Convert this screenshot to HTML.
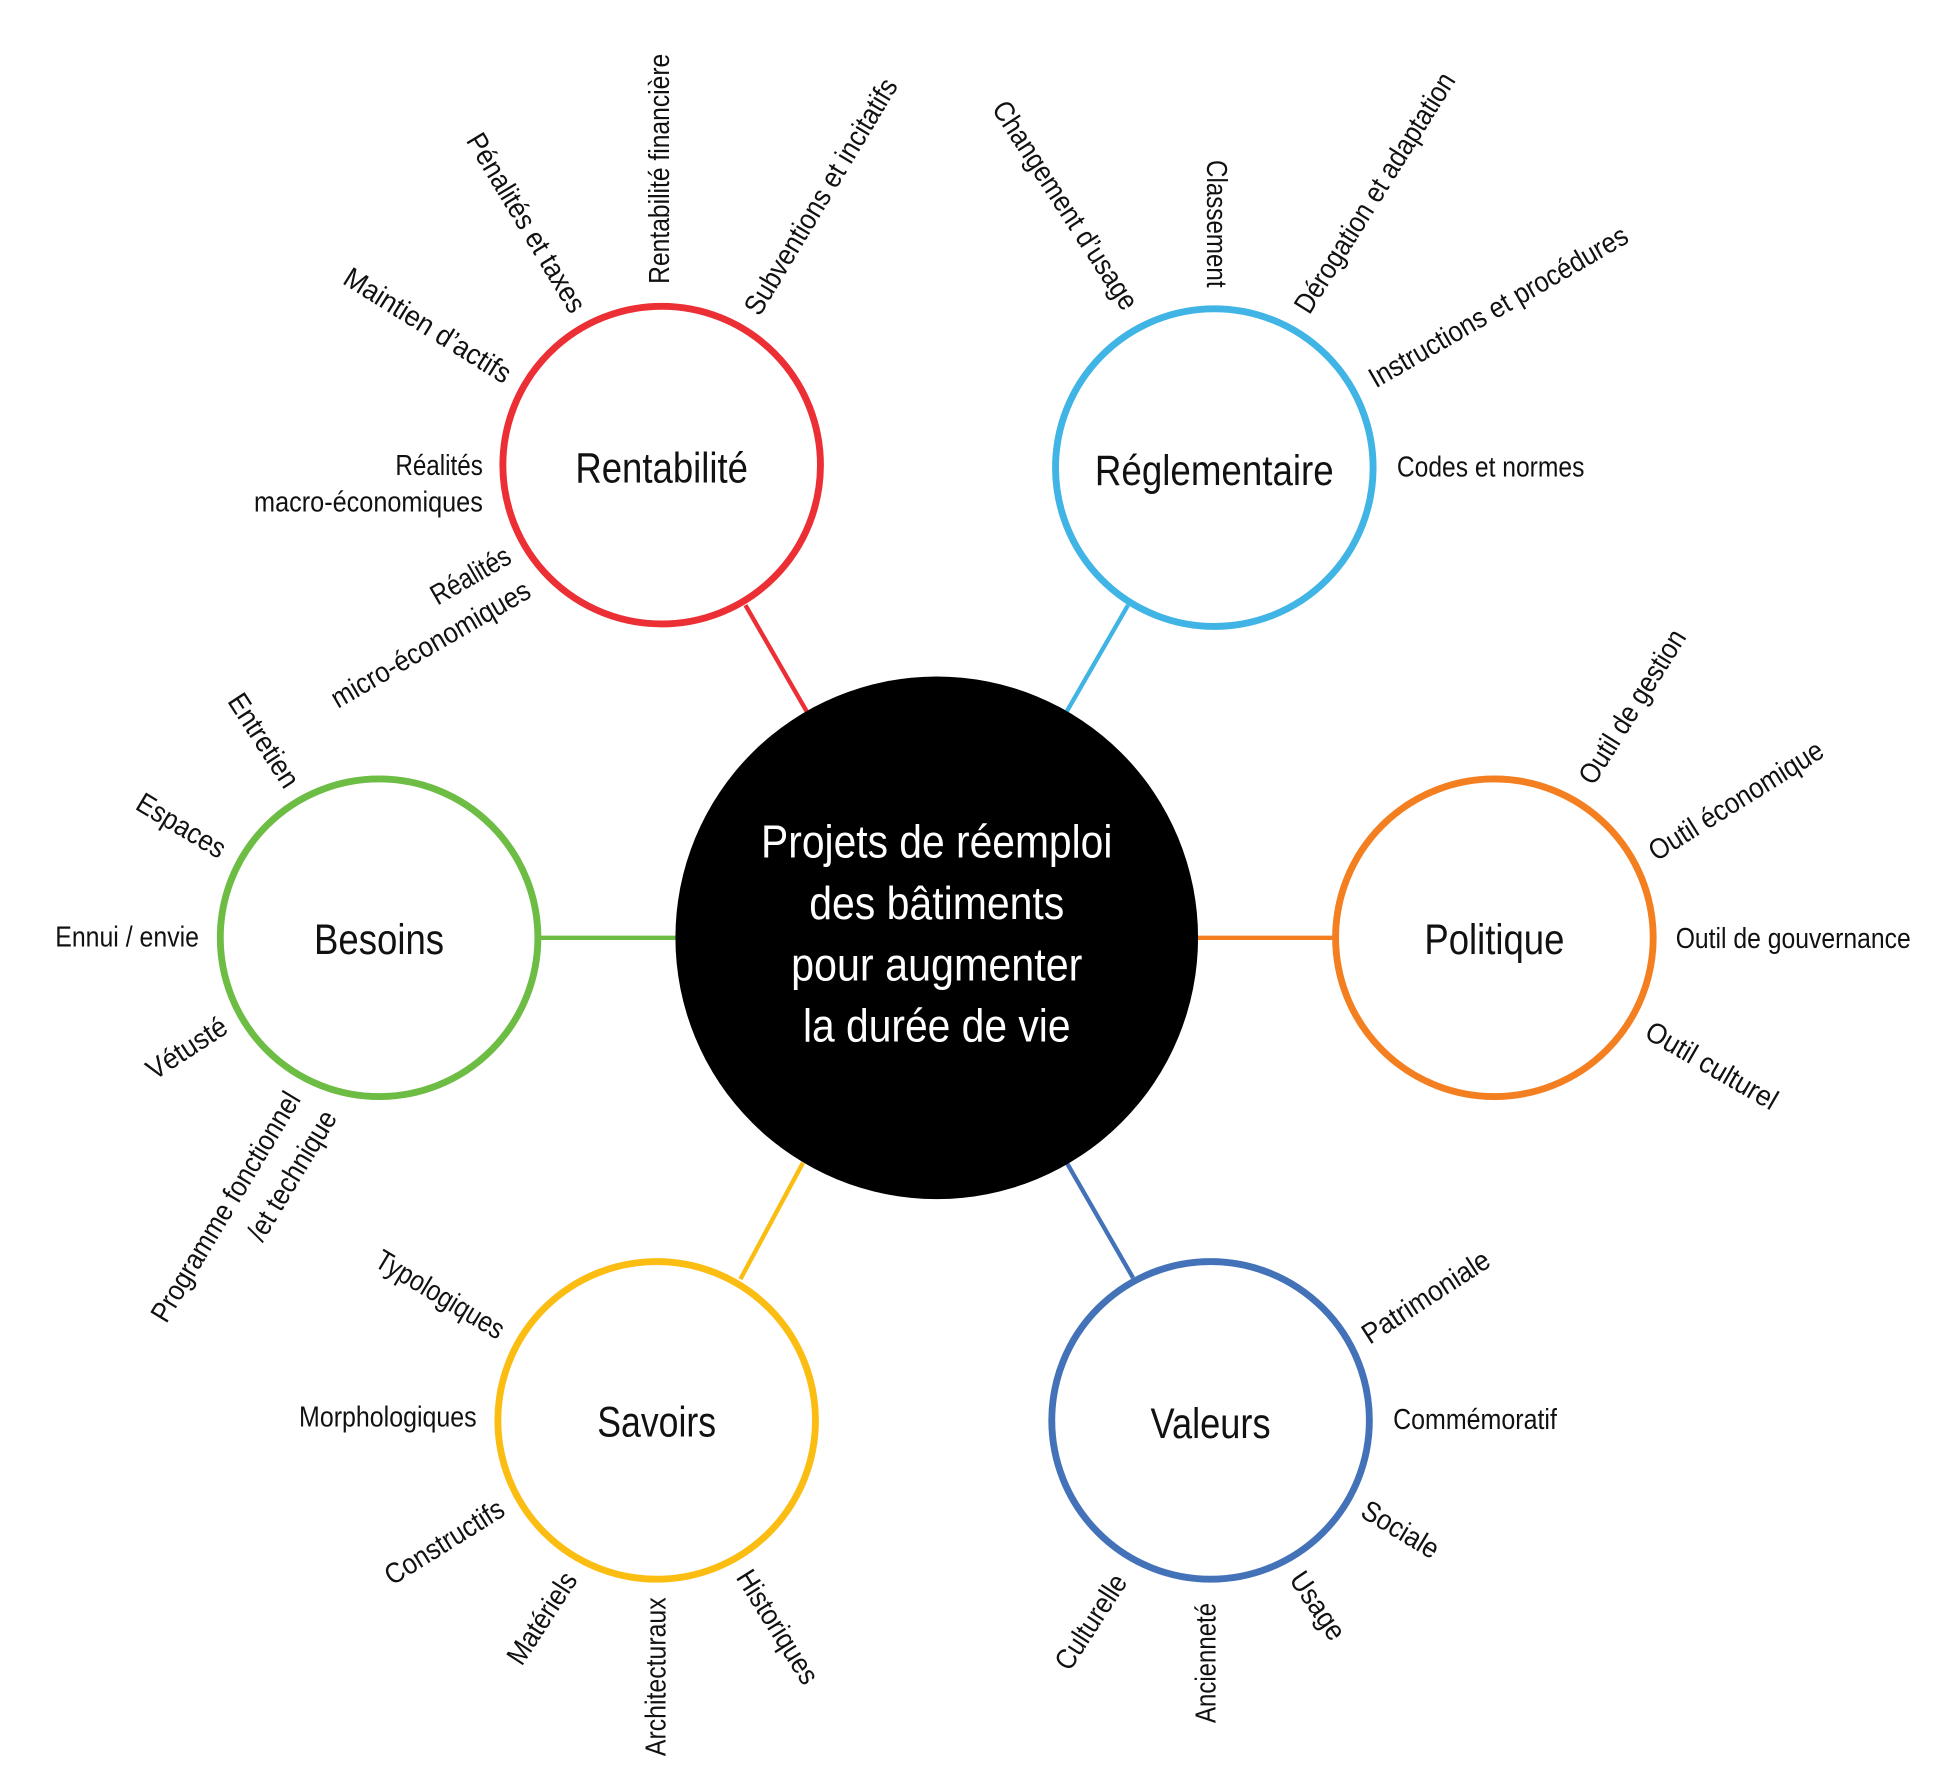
<!DOCTYPE html>
<html><head><meta charset="utf-8"><style>
html,body{margin:0;padding:0;background:#fff;}
svg{display:block;}
text{font-family:"Liberation Sans Narrow","Liberation Sans",sans-serif;fill:#111;}
.s{font-size:23px;}
.c{font-size:34px;}
.m{font-size:37px;fill:#fff;}
</style></head><body>
<svg width="1951" height="1773" viewBox="0 0 1560 1418" xmlns="http://www.w3.org/2000/svg">
<g stroke-width="3.5">
<line x1="596" y1="484" x2="645" y2="569" stroke="#ec2f34"/>
<line x1="902" y1="484" x2="853" y2="569" stroke="#3fb4e5"/>
<line x1="958" y1="750" x2="1066" y2="750" stroke="#f47f20"/>
<line x1="432" y1="750" x2="540" y2="750" stroke="#6dbd45"/>
<line x1="642" y1="930" x2="592" y2="1023" stroke="#fbbd12"/>
<line x1="853" y1="930" x2="906" y2="1022" stroke="#4472b8"/>
</g>
<g fill="none" stroke-width="5.5">
<circle cx="529" cy="372" r="127" stroke="#ec2f34"/>
<circle cx="971" cy="374" r="127" stroke="#3fb4e5"/>
<circle cx="1195" cy="750" r="127" stroke="#f47f20"/>
<circle cx="303" cy="750" r="127" stroke="#6dbd45"/>
<circle cx="525" cy="1136" r="127" stroke="#fbbd12"/>
<circle cx="968" cy="1136" r="127" stroke="#4472b8"/>
</g>
<circle cx="749" cy="750" r="209" fill="#000"/>
<g text-anchor="middle">
<text class="m" x="749" y="686" textLength="281" lengthAdjust="spacingAndGlyphs">Projets de réemploi</text>
<text class="m" x="749" y="735" textLength="204" lengthAdjust="spacingAndGlyphs">des bâtiments</text>
<text class="m" x="749" y="784" textLength="233" lengthAdjust="spacingAndGlyphs">pour augmenter</text>
<text class="m" x="749" y="833" textLength="214" lengthAdjust="spacingAndGlyphs">la durée de vie</text>
<text class="c" x="529" y="386" textLength="138" lengthAdjust="spacingAndGlyphs">Rentabilité</text>
<text class="c" x="971" y="388" textLength="191" lengthAdjust="spacingAndGlyphs">Réglementaire</text>
<text class="c" x="1195" y="763" textLength="112" lengthAdjust="spacingAndGlyphs">Politique</text>
<text class="c" x="303" y="763" textLength="104" lengthAdjust="spacingAndGlyphs">Besoins</text>
<text class="c" x="525" y="1149" textLength="95" lengthAdjust="spacingAndGlyphs">Savoirs</text>
<text class="c" x="968" y="1150" textLength="96" lengthAdjust="spacingAndGlyphs">Valeurs</text>
</g>
<g class="s">
<text x="386" y="380" text-anchor="end" textLength="70" lengthAdjust="spacingAndGlyphs">Réalités</text>
<text x="386" y="409" text-anchor="end" textLength="183" lengthAdjust="spacingAndGlyphs">macro-économiques</text>
<text x="1117" y="381" textLength="150" lengthAdjust="spacingAndGlyphs">Codes et normes</text>
<text x="1340" y="758" textLength="188" lengthAdjust="spacingAndGlyphs">Outil de gouvernance</text>
<text x="1114" y="1143" textLength="131" lengthAdjust="spacingAndGlyphs">Commémoratif</text>
<text x="381" y="1141" text-anchor="end" textLength="142" lengthAdjust="spacingAndGlyphs">Morphologiques</text>
<text x="44" y="757" textLength="115" lengthAdjust="spacingAndGlyphs">Ennui / envie</text>
</g>
<g class="s" text-anchor="middle">
<text transform="translate(527,135) rotate(-90)" y="8" textLength="184" lengthAdjust="spacingAndGlyphs">Rentabilité financière</text>
<text transform="translate(656,157) rotate(-59)" y="8" textLength="216" lengthAdjust="spacingAndGlyphs">Subventions et incitatifs</text>
<text transform="translate(421,178) rotate(59)" y="8" textLength="163" lengthAdjust="spacingAndGlyphs">Pénalités et taxes</text>
<text transform="translate(342,260) rotate(32)" y="8" textLength="153" lengthAdjust="spacingAndGlyphs">Maintien d’actifs</text>
<text transform="translate(376,460) rotate(-30)" y="8" textLength="70" lengthAdjust="spacingAndGlyphs">Réalités</text>
<text transform="translate(344,515) rotate(-30)" y="8" textLength="180" lengthAdjust="spacingAndGlyphs">micro-économiques</text>
<text transform="translate(852,164) rotate(57)" y="8" textLength="194" lengthAdjust="spacingAndGlyphs">Changement d’usage</text>
<text transform="translate(973,179) rotate(90)" y="8" textLength="102" lengthAdjust="spacingAndGlyphs">Classement</text>
<text transform="translate(1099,154) rotate(-58)" y="8" textLength="222" lengthAdjust="spacingAndGlyphs">Dérogation et adaptation</text>
<text transform="translate(1198,245) rotate(-30)" y="8" textLength="235" lengthAdjust="spacingAndGlyphs">Instructions et procédures</text>
<text transform="translate(1305,565) rotate(-58)" y="8" textLength="141" lengthAdjust="spacingAndGlyphs">Outil de gestion</text>
<text transform="translate(1388,640) rotate(-32)" y="8" textLength="160" lengthAdjust="spacingAndGlyphs">Outil économique</text>
<text transform="translate(1369,852) rotate(30)" y="8" textLength="118" lengthAdjust="spacingAndGlyphs">Outil culturel</text>
<text transform="translate(1140,1037) rotate(-33)" y="8" textLength="117" lengthAdjust="spacingAndGlyphs">Patrimoniale</text>
<text transform="translate(1120,1223) rotate(31)" y="8" textLength="68" lengthAdjust="spacingAndGlyphs">Sociale</text>
<text transform="translate(1054,1284) rotate(56)" y="8" textLength="61" lengthAdjust="spacingAndGlyphs">Usage</text>
<text transform="translate(964,1330) rotate(-90)" y="8" textLength="96" lengthAdjust="spacingAndGlyphs">Ancienneté</text>
<text transform="translate(872,1297) rotate(-57)" y="8" textLength="86" lengthAdjust="spacingAndGlyphs">Culturelle</text>
<text transform="translate(622,1301) rotate(58)" y="8" textLength="103" lengthAdjust="spacingAndGlyphs">Historiques</text>
<text transform="translate(524,1341) rotate(-90)" y="8" textLength="127" lengthAdjust="spacingAndGlyphs">Architecturaux</text>
<text transform="translate(433,1294) rotate(-57)" y="8" textLength="83" lengthAdjust="spacingAndGlyphs">Matériels</text>
<text transform="translate(355,1233) rotate(-32)" y="8" textLength="108" lengthAdjust="spacingAndGlyphs">Constructifs</text>
<text transform="translate(352,1035) rotate(31)" y="8" textLength="116" lengthAdjust="spacingAndGlyphs">Typologiques</text>
<text transform="translate(211,592) rotate(57)" y="8" textLength="85" lengthAdjust="spacingAndGlyphs">Entretien</text>
<text transform="translate(145,660) rotate(31)" y="8" textLength="79" lengthAdjust="spacingAndGlyphs">Espaces</text>
<text transform="translate(149,838) rotate(-33)" y="8" textLength="72" lengthAdjust="spacingAndGlyphs">Vétusté</text>
<text transform="translate(180,965) rotate(-59)" y="8" textLength="210" lengthAdjust="spacingAndGlyphs">Programme fonctionnel</text>
<text transform="translate(233,940) rotate(-59)" y="8" textLength="117" lengthAdjust="spacingAndGlyphs">/et technique</text>
</g>
</svg>
</body></html>
